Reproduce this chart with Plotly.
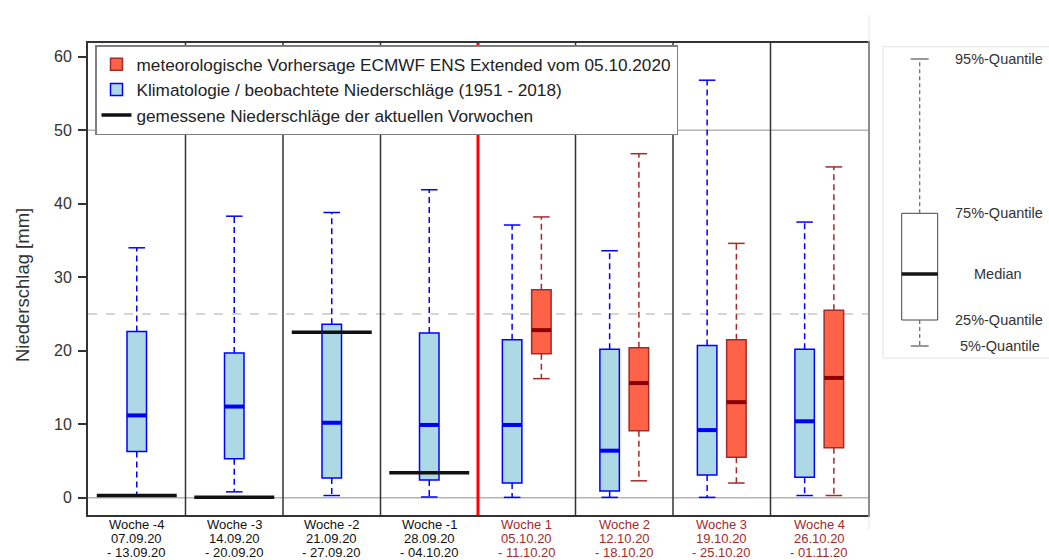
import plotly.graph_objects as go

# ---- data -------------------------------------------------------------
week_names = ["Woche -4", "Woche -3", "Woche -2", "Woche -1",
              "Woche 1", "Woche 2", "Woche 3", "Woche 4"]
week_start = ["07.09.20", "14.09.20", "21.09.20", "28.09.20",
              "05.10.20", "12.10.20", "19.10.20", "26.10.20"]
week_end = ["- 13.09.20", "- 20.09.20", "- 27.09.20", "- 04.10.20",
            "- 11.10.20", "- 18.10.20", "- 25.10.20", "- 01.11.20"]

# climatology 1951-2018 (quantiles, mm)
clim_q05 = [0.3, 0.8, 0.3, 0.1, 0.05, 0.05, 0.05, 0.3]
clim_q25 = [6.3, 5.3, 2.7, 2.4, 2.0, 0.9, 3.1, 2.8]
clim_q50 = [11.2, 12.4, 10.2, 9.9, 9.9, 6.4, 9.2, 10.4]
clim_q75 = [22.6, 19.7, 23.6, 22.4, 21.5, 20.2, 20.7, 20.2]
clim_q95 = [34.0, 38.3, 38.8, 41.9, 37.1, 33.6, 56.8, 37.5]

# ECMWF ENS extended forecast, weeks 1-4 (quantiles, mm)
fc_q05 = [16.2, 2.3, 2.0, 0.3]
fc_q25 = [19.6, 9.1, 5.5, 6.8]
fc_q50 = [22.8, 15.6, 13.0, 16.3]
fc_q75 = [28.3, 20.4, 21.5, 25.5]
fc_q95 = [38.2, 46.8, 34.6, 45.0]

# measured precipitation of the past weeks (mm)
observed = [0.3, 0.05, 22.5, 3.4]

# ---- geometry ---------------------------------------------------------
W, H = 1049, 560
ML, MR, MT, MB = 88, 181, 43, 45
PW, PH = W - ML - MR, H - MT - MB

def px(xp):
    return (xp - ML) / PW

def py(yp):
    return (H - MB - yp) / PH

n_wk = len(week_names)
n_past = len(observed)
centers = list(range(1, n_wk + 1))
shift = 0.15
clim_x = [c if i < n_past else c - shift for i, c in enumerate(centers)]
fc_x = [c + shift for c in centers[n_past:]]

BOX_W = 0.2
CAP = 0.085
OBS_HALF = 0.41

BLUE, BLUE_FILL = "#0000ff", "#add8e6"
RED_LINE, RED_FILL, RED_MED = "#a52a2a", "#ff6347", "#8b0000"
FONT = "Liberation Sans, Arial, sans-serif"


def segs(x0, x1, y0, y1):
    xs, ys = [], []
    for a, b, c, d in zip(x0, x1, y0, y1):
        xs += [a, b, None]
        ys += [c, d, None]
    return xs, ys


fig = go.Figure()


def add_boxes(x, q05, q25, q50, q75, q95, line_c, fill_c, med_c, name, rank):
    # dashed whiskers
    wx, wy = segs(x + x, x + x, q75 + q25, q95 + q05)
    fig.add_trace(go.Scatter(x=wx, y=wy, mode="lines", showlegend=False,
                             line=dict(color=line_c, width=1.5, dash="6px,4px"),
                             hoverinfo="skip"))
    # whisker caps
    cx, cy = segs([v - CAP for v in x] * 2, [v + CAP for v in x] * 2,
                  q95 + q05, q95 + q05)
    fig.add_trace(go.Scatter(x=cx, y=cy, mode="lines", showlegend=False,
                             line=dict(color=line_c, width=1.5), hoverinfo="skip"))
    # interquartile box
    fig.add_trace(go.Bar(x=x, y=[b - a for a, b in zip(q25, q75)], base=q25,
                         width=BOX_W, name=name, legendgroup=name, legendrank=rank,
                         marker=dict(color=fill_c, line=dict(color=line_c, width=1.5))))
    # median
    mx, my = segs([v - BOX_W / 2 for v in x], [v + BOX_W / 2 for v in x], q50, q50)
    fig.add_trace(go.Scatter(x=mx, y=my, mode="lines", showlegend=False,
                             line=dict(color=med_c, width=4), hoverinfo="skip"))


add_boxes(clim_x, clim_q05, clim_q25, clim_q50, clim_q75, clim_q95,
          BLUE, BLUE_FILL, BLUE,
          "Klimatologie / beobachtete Niederschläge (1951 - 2018)", 2)
add_boxes(fc_x, fc_q05, fc_q25, fc_q50, fc_q75, fc_q95,
          RED_LINE, RED_FILL, RED_MED,
          "meteorologische Vorhersage ECMWF ENS Extended vom 05.10.2020", 1)

ox, oy = segs([c - OBS_HALF for c in centers[:n_past]],
              [c + OBS_HALF for c in centers[:n_past]], observed, observed)
fig.add_trace(go.Scatter(x=ox, y=oy, mode="lines",
                         name="gemessene Niederschläge der aktuellen Vorwochen",
                         legendgroup="obs", legendrank=3,
                         line=dict(color="#111111", width=3.5), hoverinfo="skip"))

shapes = []
# reference levels
for lvl, dash, col in [(0, "solid", "#b4b4b4"), (50, "solid", "#b4b4b4"),
                       (25, "dash", "#c8c8c8")]:
    shapes.append(dict(type="line", xref="paper", yref="y", x0=0, x1=1,
                       y0=lvl, y1=lvl, layer="below",
                       line=dict(color=col, width=1.5, dash=dash)))
# week separators; the red one marks the forecast start
for b in [c + 0.5 for c in centers[:-1]]:
    red = (b == n_past + 0.5)
    shapes.append(dict(type="line", xref="x", yref="paper", x0=b, x1=b,
                       y0=0, y1=1,
                       line=dict(color="#ff0000" if red else "#333333",
                                 width=3 if red else 1.5)))

# box-plot key on the right
key_l, key_r = 901.7, 937.7
key_c = (key_l + key_r) / 2
key_y = {"q95": 59, "q75": 213.3, "q50": 274, "q25": 320, "q05": 346}
shapes.append(dict(type="line", xref="paper", yref="paper",
                   x0=px(869), x1=px(869), y0=py(15), y1=py(530),
                   line=dict(color="#e6e6e6", width=1)))
shapes.append(dict(type="rect", xref="paper", yref="paper",
                   x0=px(883), x1=px(1070), y0=py(358), y1=py(46.7),
                   fillcolor="white", line=dict(color="#e4e4e4", width=1)))
shapes.append(dict(type="rect", xref="paper", yref="paper",
                   x0=px(key_l), x1=px(key_r), y0=py(key_y["q25"]), y1=py(key_y["q75"]),
                   fillcolor="white", line=dict(color="#444444", width=1)))
shapes.append(dict(type="line", xref="paper", yref="paper",
                   x0=px(key_l), x1=px(key_r), y0=py(key_y["q50"]), y1=py(key_y["q50"]),
                   line=dict(color="#151515", width=3.5)))
for a, b in [("q75", "q95"), ("q25", "q05")]:
    shapes.append(dict(type="line", xref="paper", yref="paper",
                       x0=px(key_c), x1=px(key_c), y0=py(key_y[a]), y1=py(key_y[b]),
                       line=dict(color="#666655", width=1.2, dash="4px,3px")))
for k in ["q95", "q05"]:
    shapes.append(dict(type="line", xref="paper", yref="paper",
                       x0=px(key_c - 9), x1=px(key_c + 9), y0=py(key_y[k]), y1=py(key_y[k]),
                       line=dict(color="#555555", width=1.2)))

annotations = []
key_labels = [("95%-Quantile", "q95", 952.5, "left"),
              ("75%-Quantile", "q75", 952.5, "left"),
              ("Median", "q50", 998, "center"),
              ("25%-Quantile", "q25", 952.5, "left"),
              ("5%-Quantile", "q05", 958, "left")]
for txt, k, xx, anc in key_labels:
    annotations.append(dict(text=txt, xref="paper", yref="paper",
                            x=px(xx), y=py(key_y[k]), xanchor=anc, yanchor="middle",
                            showarrow=False, font=dict(size=14.5, color="#333333", family=FONT)))

# week labels below the axis
for i, c in enumerate(centers):
    col = "#111111" if i < n_past else "#a52a2a"
    for txt, yy in [(week_names[i], 524), (week_start[i], 538), (week_end[i], 552)]:
        annotations.append(dict(text=txt, xref="x", yref="paper", x=c, y=py(yy),
                                xanchor="center", yanchor="middle", showarrow=False,
                                font=dict(size=13, color=col, family=FONT)))

annotations.append(dict(text="Niederschlag [mm]", xref="paper", yref="paper",
                        x=px(22), y=py(285), textangle=-90, showarrow=False,
                        xanchor="center", yanchor="middle",
                        font=dict(size=18.5, color="#333333", family=FONT)))

fig.update_layout(
    width=W, height=H,
    margin=dict(l=ML, r=MR, t=MT, b=MB),
    paper_bgcolor="white", plot_bgcolor="white",
    barmode="overlay",
    font=dict(family=FONT, color="#222222"),
    showlegend=True,
    legend=dict(x=px(95), y=py(45), xanchor="left", yanchor="top",
                bgcolor="white", bordercolor="#7f7f7f", borderwidth=1.5,
                font=dict(size=17.2, color="#222222", family=FONT),
                traceorder="normal", tracegroupgap=3),
    xaxis=dict(range=[0.5, n_wk + 0.5], showticklabels=False, ticks="",
               showgrid=False, zeroline=False, showline=True, mirror=True,
               linecolor="#333333", linewidth=2),
    yaxis=dict(range=[-2.35, 61.86], tickvals=[0, 10, 20, 30, 40, 50, 60],
               ticks="outside", ticklen=8, tickwidth=1.5, tickcolor="#333333",
               ticklabelstandoff=3,
               tickfont=dict(size=16, color="#333333", family=FONT),
               showgrid=False, zeroline=False, showline=True, mirror=True,
               linecolor="#333333", linewidth=2),
    shapes=shapes,
    annotations=annotations,
)

fig.write_html("out.html")
